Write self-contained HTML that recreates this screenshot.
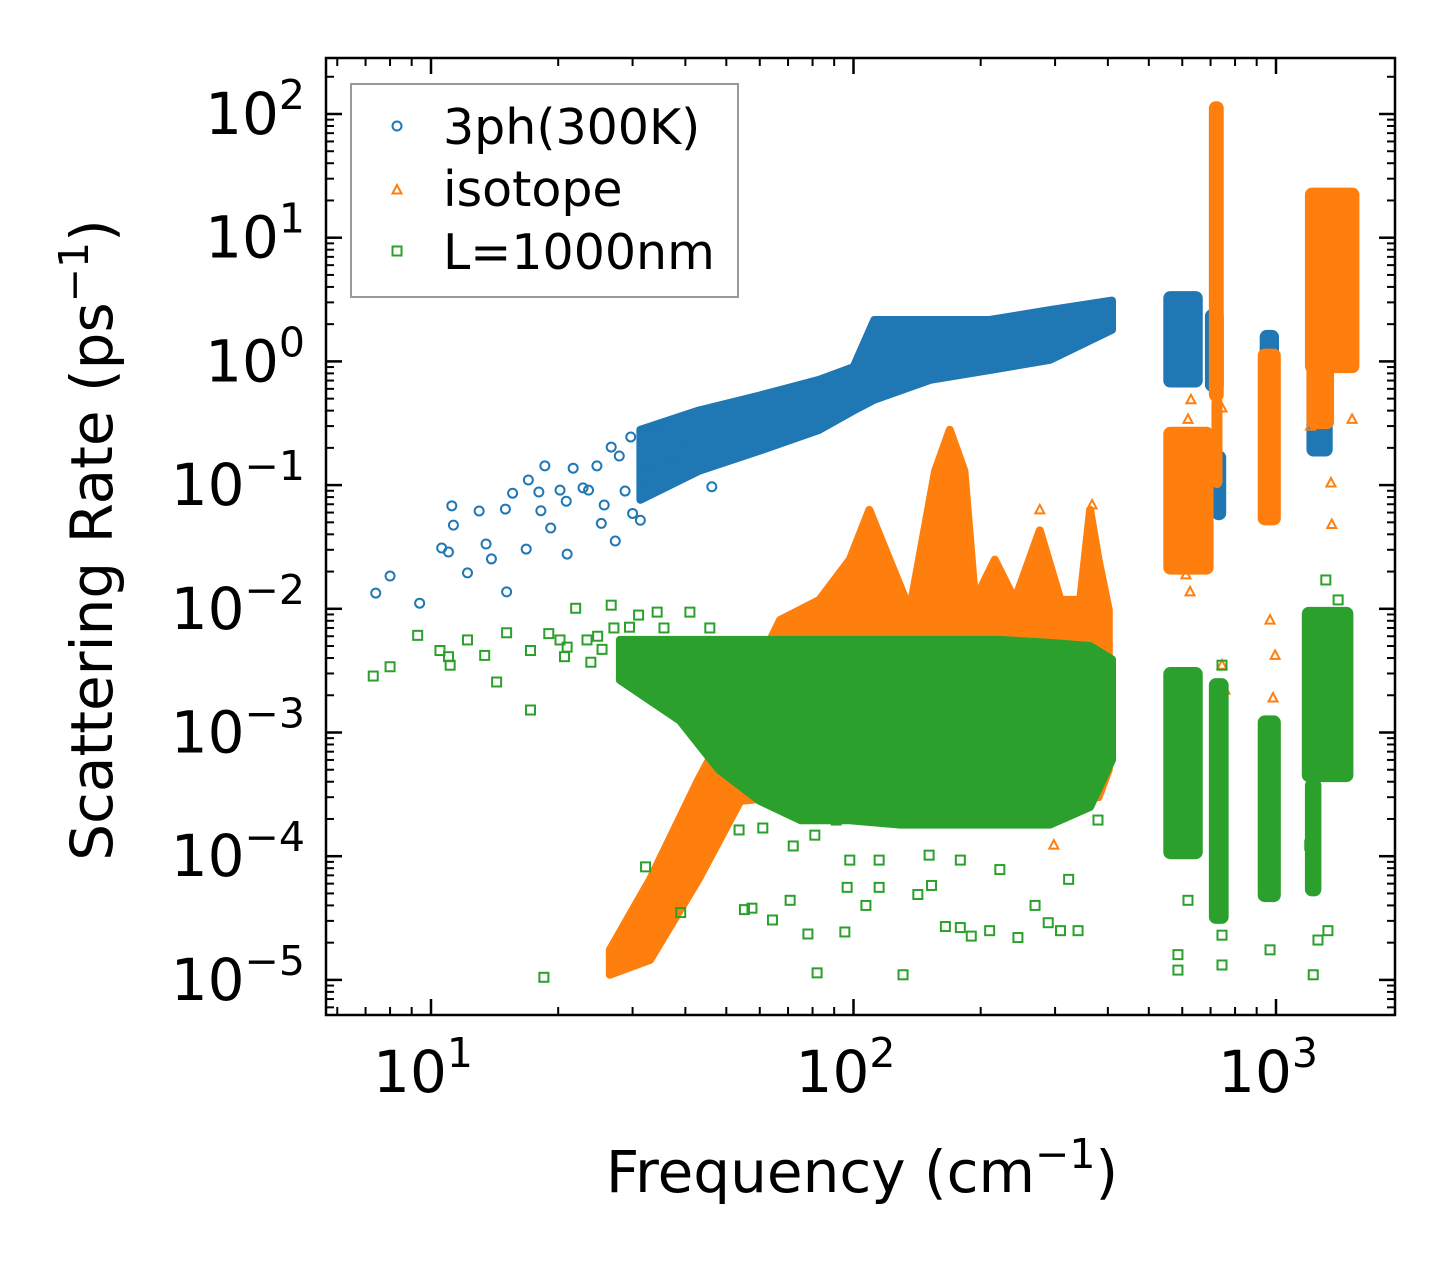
<!DOCTYPE html>
<html><head><meta charset="utf-8"><style>
html,body{margin:0;padding:0;background:#fff;}
svg{display:block;font-family:"DejaVu Sans","Liberation Sans",sans-serif;}
</style></head><body>
<svg id="chart" width="1455" height="1265" viewBox="0 0 1455 1265" xmlns="http://www.w3.org/2000/svg">
<rect width="1455" height="1265" fill="#fff"/>
<g id="plot"></g>
<g id="axes"></g>
</svg>
<script>
// ---------- data ----------
const blueFreq=[7.4,8.0,9.4,10.6,11.0,11.2,11.3,12.2,13.5,13.9,13.0,15.0,15.1,15.6,16.8,17.0,18.0,18.2,18.6,19.2,20.2,20.9,21.0,21.7,22.9,23.6,24.7,25.3,25.7,26.7,27.3,27.9,28.8,29.7,30.0,31.3,32.5,33.5,34.4,37.0,39.5,46.2];
const blueRate=[0.0134,0.0184,0.0111,0.031,0.0288,0.068,0.0475,0.0195,0.0334,0.0253,0.0618,0.064,0.0137,0.086,0.0304,0.11,0.088,0.062,0.143,0.045,0.091,0.074,0.0277,0.137,0.095,0.091,0.143,0.049,0.069,0.203,0.0353,0.172,0.0895,0.245,0.059,0.052,0.095,0.137,0.279,0.154,0.215,0.097];
const blueBandFreq=[31.3,43,60,83,100,112,152,210,292,409];
const blueBandHi=[0.28,0.40,0.53,0.71,0.9,2.16,2.16,2.16,2.6,3.1];
const blueBandLo=[0.076,0.13,0.19,0.28,0.4,0.49,0.71,0.85,1.03,1.8];
const blueColFLo=[550,690,715,930,1200,1380];
const blueColFHi=[660,740,750,1000,1340,1540];
const blueColRLo=[0.65,0.6,0.055,0.12,0.18,1.36];
const blueColRHi=[3.5,2.5,0.18,1.7,2.2,3.4];

const orangeFreq=[629,619,745,612,626,968,995,984,745,757,1349,1355,1514,1207,183,276,367,298];
const orangeRate=[0.49,0.34,0.42,0.0188,0.0137,0.0081,0.0042,0.0019,0.0035,0.0022,0.104,0.048,0.34,0.30,0.06,0.063,0.069,1.23e-4];
const orangeBandFreq=[26.5,33,43,54,67,83,98,109,119,136,156,169,183,194,216,241,276,309,344,363,380,402];
const orangeBandHi=[1.75e-5,6.5e-5,4.2e-4,1.8e-3,8.1e-3,0.0118,0.025,0.063,0.03,0.0098,0.13,0.28,0.13,0.0118,0.025,0.0118,0.043,0.0118,0.0118,0.063,0.025,0.0098];
const orangeBandLo=[1.1e-5,1.45e-5,6.5e-5,2.8e-4,3e-4,3e-4,3e-4,3e-4,3e-4,3e-4,3e-4,3e-4,3e-4,3e-4,3e-4,3e-4,3e-4,3e-4,3e-4,3e-4,3e-4,5e-4];
const orangeColFLo=[550,705,715,920,1190,1200];
const orangeColFHi=[700,740,735,1010,1550,1350];
const orangeColRLo=[0.02,0.5,0.1,0.05,0.85,0.3];
const orangeColRHi=[0.28,120,0.5,1.2,24,1.0];

const greenFreq=[7.3,8.0,9.3,10.5,11.1,11.0,12.2,13.4,14.3,15.1,17.2,17.2,19.0,20.2,20.7,21.0,22.0,23.4,23.9,24.8,25.4,26.7,27.1,29.5,31.0,34.3,35.6,41.0,45.7,18.5,32.2,39.0,53.6,55.2,57.5,64.3,70.8,78,82,96.6,95.4,98,107,115,131,142,153,165,179,190,210,245,289,309,323,340,269,222,179,151,115,91,81,72,61,379,561,586,586,745,745,968,1225,1257,1327,1202,1312,1403,745,619];
const greenRate=[0.00286,0.0034,0.0061,0.0046,0.0035,0.0041,0.0056,0.0042,0.00256,0.0064,0.00152,0.0046,0.0063,0.0056,0.0041,0.0049,0.0101,0.0056,0.0037,0.006,0.0047,0.0107,0.007,0.0071,0.0089,0.0094,0.007,0.0094,0.007,1.05e-5,8.2e-5,3.5e-5,1.63e-4,3.7e-5,3.8e-5,3.05e-5,4.4e-5,2.35e-5,1.14e-5,5.6e-5,2.44e-5,9.3e-5,4.0e-5,5.6e-5,1.1e-5,4.9e-5,5.8e-5,2.7e-5,2.65e-5,2.26e-5,2.5e-5,2.2e-5,2.9e-5,2.5e-5,6.5e-5,2.5e-5,4.0e-5,7.8e-5,9.3e-5,1.02e-4,9.3e-5,1.96e-4,1.48e-4,1.21e-4,1.69e-4,1.96e-4,6.0e-4,1.2e-5,1.6e-5,2.3e-5,1.32e-5,1.75e-5,1.1e-5,2.1e-5,2.5e-5,1.23e-4,0.0171,0.0118,0.0035,4.4e-5];
const greenBandFreq=[28,38.8,48,60,75,98,129,169,222,292,363,409];
const greenBandHi=[5.6e-3,5.6e-3,5.6e-3,5.6e-3,5.6e-3,5.6e-3,5.6e-3,5.6e-3,5.6e-3,5.3e-3,5.0e-3,3.9e-3];
const greenBandLo=[2.65e-3,1.25e-3,5e-4,2.8e-4,1.95e-4,1.95e-4,1.8e-4,1.8e-4,1.8e-4,1.8e-4,2.5e-4,6e-4];
const greenColFLo=[550,705,920,1170,1190];
const greenColFHi=[660,760,1010,1500,1260];
const greenColRLo=[1e-4,3e-5,4.5e-5,4.2e-4,5e-5];
const greenColRHi=[3.2e-3,2.6e-3,1.3e-3,9.8e-3,4e-4];

const xTickVals=[10,100,1000];
const xTickExp=["1","2","3"];
const yTickVals=[1e2,1e1,1e0,1e-1,1e-2,1e-3,1e-4,1e-5];
const yTickExp=["2","1","0","−1","−2","−3","−4","−5"];

// ---------- axes ----------
const L=326,R=1395,T=58,B=1015;
const X0=431,XD=422.5,Y0=114,YD=123.7;
function xs(f){return X0+(Math.log10(f)-1)*XD;}
function ys(r){return Y0+(2-Math.log10(r))*YD;}
const NS="http://www.w3.org/2000/svg";
function mk(tag,attrs,parent){const e=document.createElementNS(NS,tag);for(const k in attrs)e.setAttribute(k,attrs[k]);parent.appendChild(e);return e;}
const plot=document.getElementById('plot'),axes=document.getElementById('axes');
const C={b:'#1f77b4',o:'#ff7f0e',g:'#2ca02c'};

function band(fr,hi,lo,col,name){
  let p=[];
  for(let i=0;i<fr.length;i++)p.push(xs(fr[i]).toFixed(1)+','+ys(hi[i]).toFixed(1));
  for(let i=fr.length-1;i>=0;i--)p.push(xs(fr[i]).toFixed(1)+','+ys(lo[i]).toFixed(1));
  const e=mk('polygon',{points:p.join(' '),fill:col,stroke:col,'stroke-width':8,'stroke-linejoin':'round'},plot);
  
  
}
function cols(flo,fhi,rlo,rhi,col,name){
  for(let i=0;i<flo.length;i++){
    const x1=xs(flo[i]),x2=xs(fhi[i]),y1=ys(rhi[i]),y2=ys(rlo[i]);
    const r=mk('rect',{x:x1,y:y1,width:x2-x1,height:y2-y1,rx:4,fill:col,stroke:col,'stroke-width':6},plot);
    
    
  }
}
function marker(type,x,y,col,parent){
  if(type==='c')return mk('circle',{cx:x,cy:y,r:4.5,fill:'none',stroke:col,'stroke-width':2},parent);
  if(type==='t')return mk('polygon',{points:`${x},${y-5} ${x-4.5},${y+3.5} ${x+4.5},${y+3.5}`,fill:'none',stroke:col,'stroke-width':2},parent);
  return mk('rect',{x:x-4.5,y:y-4.5,width:9,height:9,fill:'none',stroke:col,'stroke-width':2},parent);
}
function pts(fr,rt,type,col,name){
  for(let i=0;i<fr.length;i++){
    const e=marker(type,xs(fr[i]),ys(rt[i]),col,plot);
    
    
  }
}
band(blueBandFreq,blueBandHi,blueBandLo,C.b,'3ph-dense-band');
cols(blueColFLo,blueColFHi,blueColRLo,blueColRHi,C.b,'3ph-cluster');
pts(blueFreq,blueRate,'c',C.b,'3ph-point');
band(orangeBandFreq,orangeBandHi,orangeBandLo,C.o,'isotope-dense-band');
cols(orangeColFLo,orangeColFHi,orangeColRLo,orangeColRHi,C.o,'isotope-cluster');
pts(orangeFreq,orangeRate,'t',C.o,'isotope-point');
band(greenBandFreq,greenBandHi,greenBandLo,C.g,'boundary-dense-band');
cols(greenColFLo,greenColFHi,greenColRLo,greenColRHi,C.g,'boundary-cluster');
pts(greenFreq,greenRate,'s',C.g,'boundary-point');

const frame=mk('rect',{x:L,y:T,width:R-L,height:B-T,fill:'none',stroke:'#000','stroke-width':2.5},axes);



function tick(x1,y1,x2,y2,w){mk('line',{x1,y1,x2,y2,stroke:'#000','stroke-width':w},axes);}
for(let d=0;d<=3;d++){
  for(let m=1;m<=9;m++){
    const v=m*Math.pow(10,d);const x=xs(v);
    if(x<L||x>R)continue;
    const len=m===1?16:8,w=m===1?2.5:2;
    tick(x,B,x,B-len,w);tick(x,T,x,T+len,w);
  }
}
for(let d=-6;d<=2;d++){
  for(let m=1;m<=9;m++){
    const v=m*Math.pow(10,d);const y=ys(v);
    if(y<T||y>B)continue;
    const len=m===1?16:8,w=m===1?2.5:2;
    tick(L,y,L+len,y,w);tick(R,y,R-len,y,w);
  }
}
xTickVals.forEach((v,i)=>{
  const t=mk('text',{x:xs(v)-8,y:1092,'font-size':58,'text-anchor':'middle',fill:'#000'},axes);
  
  
  t.innerHTML='10<tspan dy="-25" font-size="41">'+xTickExp[i]+'</tspan>';
});
yTickVals.forEach((v,i)=>{
  const t=mk('text',{x:305,y:ys(v)+20,'font-size':58,'text-anchor':'end',fill:'#000'},axes);
  
  
  t.innerHTML='10<tspan dy="-25" font-size="41">'+yTickExp[i]+'</tspan>';
});
</script>
<svg style="position:absolute;left:0;top:0" width="1455" height="1265" xmlns="http://www.w3.org/2000/svg" font-family="DejaVu Sans, Liberation Sans, sans-serif">
<text x="862" y="1192" font-size="58" text-anchor="middle">Frequency (cm<tspan dy="-24" font-size="41">−1</tspan><tspan dy="24">)</tspan></text>
<text transform="translate(112,540) rotate(-90)" font-size="58" text-anchor="middle">Scattering Rate (ps<tspan dy="-24" font-size="41">−1</tspan><tspan dy="24">)</tspan></text>
<g>
<rect x="351" y="84" width="387" height="213" fill="#fff" fill-opacity="0.8" stroke="#999" stroke-width="2"/>
<g><circle cx="397" cy="126" r="4.5" fill="none" stroke="#1f77b4" stroke-width="2"/><text x="443" y="144" font-size="49">3ph(300K)</text></g>
<g><polygon points="397,185 392.5,193.5 401.5,193.5" fill="none" stroke="#ff7f0e" stroke-width="2"/><text x="443" y="206" font-size="49">isotope</text></g>
<g><rect x="392.5" y="246.5" width="9" height="9" fill="none" stroke="#2ca02c" stroke-width="2"/><text x="443" y="269" font-size="49">L=1000nm</text></g>
</g>
</svg>
</body></html>
